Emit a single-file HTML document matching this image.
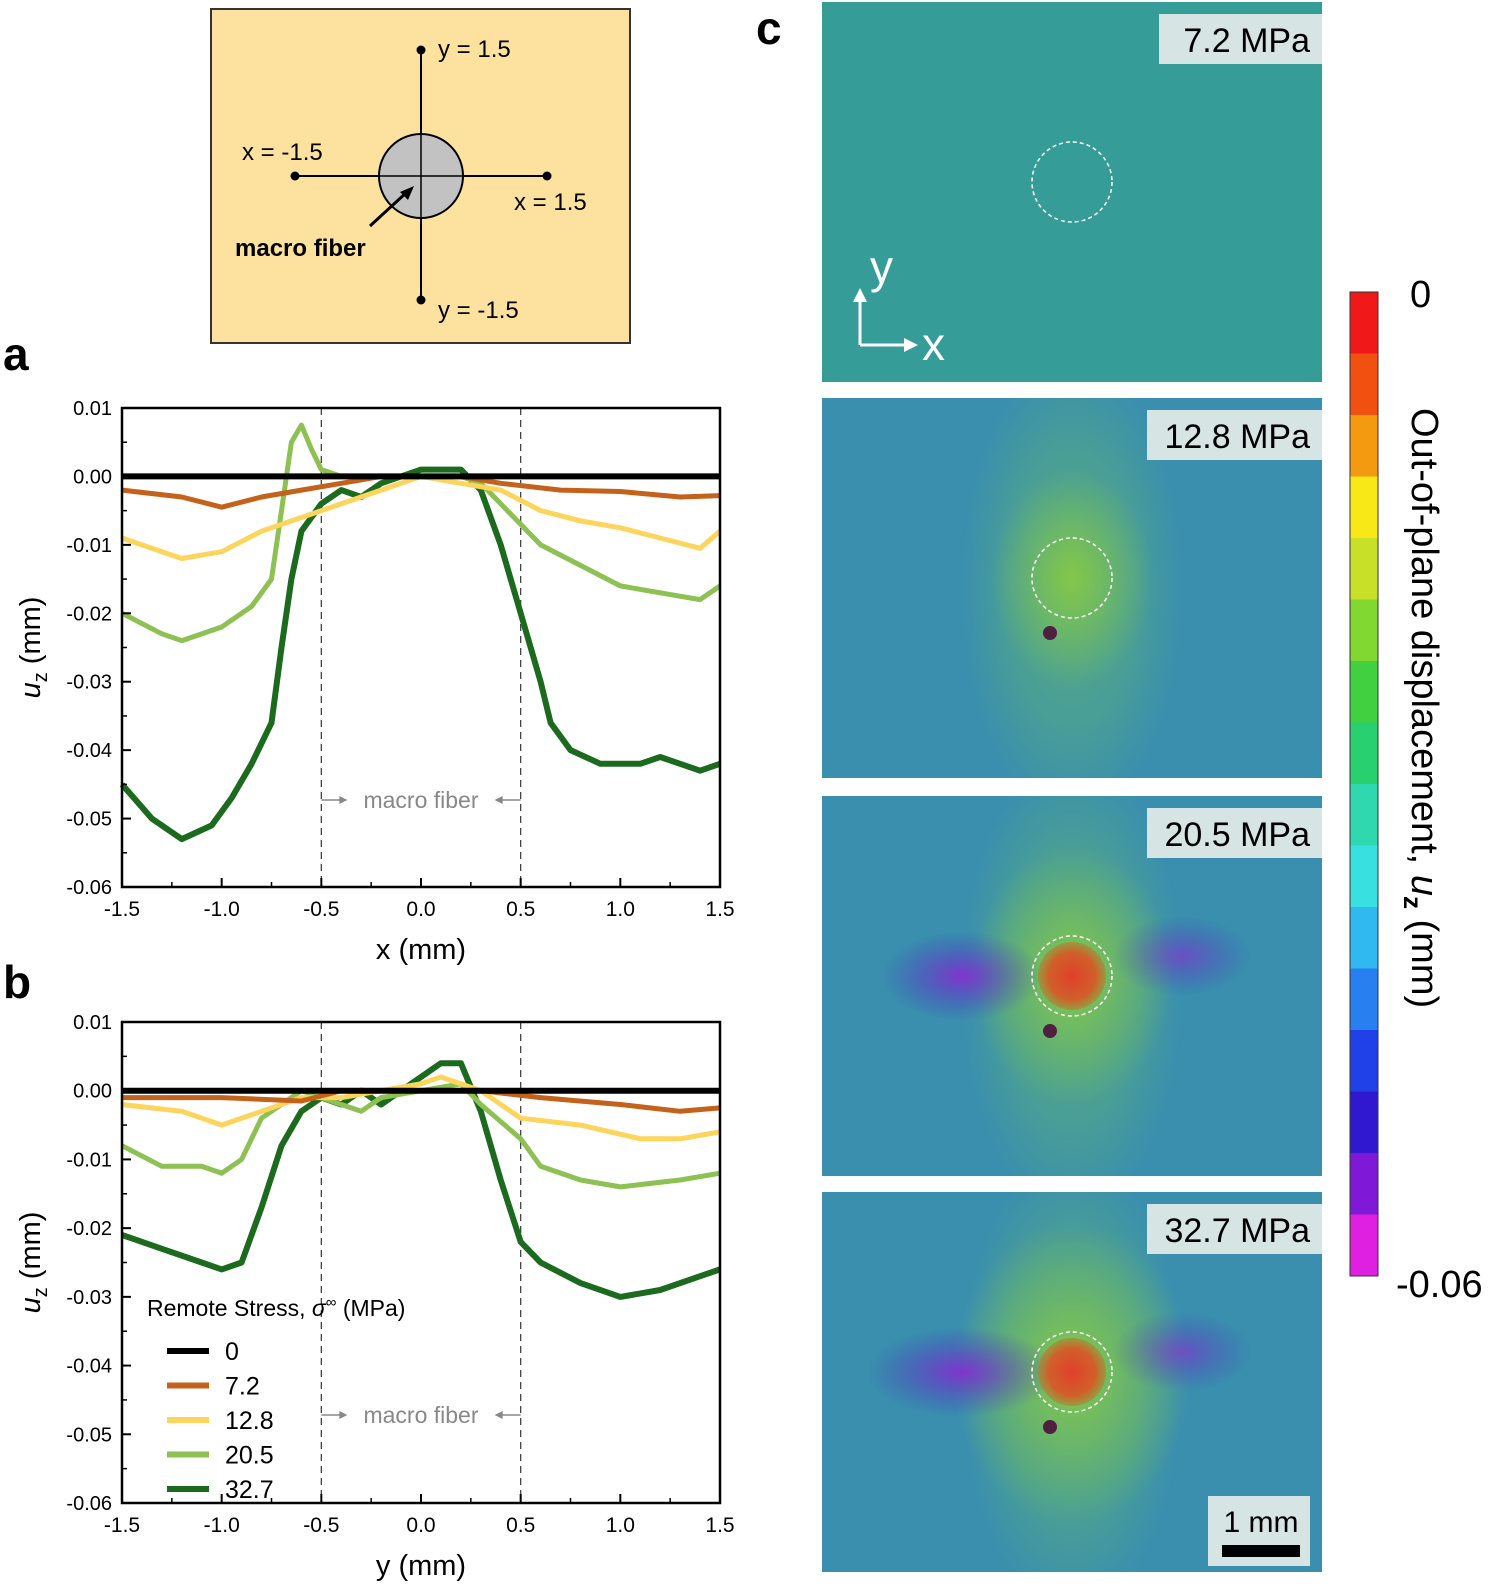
<!DOCTYPE html>
<html><head><meta charset="utf-8"><style>
body{margin:0;background:#fff;font-family:"Liberation Sans",Arial,sans-serif}
svg{display:block}
</style></head><body>
<svg id="fig" width="1502" height="1596" viewBox="0 0 1502 1596" xmlns="http://www.w3.org/2000/svg" font-family="Liberation Sans, Arial, sans-serif">
<defs>
<radialGradient id="gC" cx="0.5" cy="0.5" r="0.5"><stop offset="0" stop-color="#8fcf3a" stop-opacity="0.8"/><stop offset="1" stop-color="#8fcf3a" stop-opacity="0"/></radialGradient>
<radialGradient id="vC" cx="0.5" cy="0.5" r="0.5"><stop offset="0" stop-color="#6cc060" stop-opacity="0.55"/><stop offset="0.6" stop-color="#6cc060" stop-opacity="0.3"/><stop offset="1" stop-color="#6cc060" stop-opacity="0"/></radialGradient>
<radialGradient id="rC" cx="0.5" cy="0.5" r="0.5"><stop offset="0" stop-color="#e0402a"/><stop offset="0.7" stop-color="#d0602a"/><stop offset="1" stop-color="#b08030" stop-opacity="0.6"/></radialGradient>
<radialGradient id="pC" cx="0.5" cy="0.5" r="0.5"><stop offset="0" stop-color="#8a2ad0" stop-opacity="0.9"/><stop offset="1" stop-color="#3a3ac0" stop-opacity="0"/></radialGradient>
</defs>

<!-- schematic -->
<g>
<rect x="211" y="9" width="419" height="334" fill="#fde29f" stroke="#333" stroke-width="2"/>
<line x1="421" y1="50" x2="421" y2="300" stroke="#000" stroke-width="2"/>
<line x1="295" y1="176" x2="547" y2="176" stroke="#000" stroke-width="2"/>
<circle cx="421" cy="176" r="42" fill="#c2c2c2" stroke="#000" stroke-width="2"/>
<line x1="421" y1="134" x2="421" y2="218" stroke="#000" stroke-width="1.5"/>
<line x1="379" y1="176" x2="463" y2="176" stroke="#000" stroke-width="1.5"/>
<circle cx="421" cy="50" r="4.5"/><circle cx="421" cy="300" r="4.5"/><circle cx="295" cy="176" r="4.5"/><circle cx="547" cy="176" r="4.5"/>
<line x1="370" y1="226" x2="407" y2="192" stroke="#000" stroke-width="3"/>
<polygon points="414,186 400,192 408,200"/>
<text x="438" y="57" font-size="24">y = 1.5</text>
<text x="438" y="318" font-size="24">y = -1.5</text>
<text x="242" y="160" font-size="24">x = -1.5</text>
<text x="514" y="210" font-size="24">x = 1.5</text>
<text x="235" y="256" font-size="24" font-weight="bold">macro fiber</text>
</g>

<text x="3" y="370" font-size="46" font-weight="bold">a</text>
<text x="3" y="998" font-size="46" font-weight="bold">b</text>
<text x="756" y="44" font-size="46" font-weight="bold">c</text>

<g id="chartA"></g>
<g id="chartB"></g>
<g id="maps"></g>

<g id="cbar"></g>
<text x="1410" y="307" font-size="38">0</text>
<text x="1396" y="1297" font-size="38">-0.06</text>
<text transform="translate(1412,408) rotate(90)" font-size="38">Out-of-plane displacement, <tspan font-style="italic">u</tspan><tspan font-size="26" dy="8" font-weight="bold">z</tspan><tspan dy="-8"> (mm)</tspan></text>
</svg>
<script>
const NS="http://www.w3.org/2000/svg";
function mk(p,t,a){const e=document.createElementNS(NS,t);for(const k in a)e.setAttribute(k,a[k]);p.appendChild(e);return e;}

const seriesNames=["0","7.2","12.8","20.5","32.7"];
const seriesColors=["#000000","#c4621c","#fdd45c","#8ec153","#1b6a1e"];
const xTicks=[-1.5,-1.0,-0.5,0.0,0.5,1.0,1.5];
const xTickLabels=["-1.5","-1.0","-0.5","0.0","0.5","1.0","1.5"];
const yTicks=[0.01,0,-0.01,-0.02,-0.03,-0.04,-0.05,-0.06];
const yTickLabels=["0.01","0.00","-0.01","-0.02","-0.03","-0.04","-0.05","-0.06"];

const aX0=[-1.5,1.5]; const aY0=[0,0];
const aX72=[-1.5,-1.2,-1.0,-0.8,-0.6,-0.4,-0.2,0,0.2,0.4,0.7,1.0,1.3,1.5];
const aY72=[-0.002,-0.003,-0.0045,-0.003,-0.002,-0.001,0,0,0,-0.001,-0.002,-0.0022,-0.003,-0.0028];
const aX128=[-1.5,-1.3,-1.2,-1.0,-0.8,-0.6,-0.4,-0.2,0,0.2,0.4,0.6,0.8,1.0,1.2,1.4,1.5];
const aY128=[-0.009,-0.011,-0.012,-0.011,-0.008,-0.006,-0.004,-0.002,0,-0.001,-0.002,-0.005,-0.0065,-0.0075,-0.009,-0.0105,-0.008];
const aX205=[-1.5,-1.3,-1.2,-1.0,-0.85,-0.75,-0.7,-0.65,-0.6,-0.55,-0.5,-0.4,-0.2,0,0.2,0.3,0.4,0.5,0.6,0.8,1.0,1.2,1.4,1.5];
const aY205=[-0.020,-0.023,-0.024,-0.022,-0.019,-0.015,-0.005,0.005,0.0075,0.004,0.001,0,0,0,0,-0.001,-0.004,-0.007,-0.010,-0.013,-0.016,-0.017,-0.018,-0.016];
const aX327=[-1.5,-1.35,-1.2,-1.05,-0.95,-0.85,-0.75,-0.7,-0.65,-0.6,-0.5,-0.4,-0.3,-0.2,-0.1,0,0.1,0.2,0.3,0.4,0.5,0.6,0.65,0.75,0.9,1.1,1.2,1.3,1.4,1.5];
const aY327=[-0.045,-0.050,-0.053,-0.051,-0.047,-0.042,-0.036,-0.025,-0.015,-0.008,-0.004,-0.002,-0.003,-0.001,0,0.001,0.001,0.001,-0.002,-0.010,-0.020,-0.030,-0.036,-0.040,-0.042,-0.042,-0.041,-0.042,-0.043,-0.042];

const bX0=[-1.5,1.5]; const bY0=[0,0];
const bX72=[-1.5,-1.0,-0.6,-0.4,0,0.3,0.6,1.0,1.3,1.5];
const bY72=[-0.001,-0.001,-0.0015,0,0,0,-0.001,-0.002,-0.003,-0.0025];
const bX128=[-1.5,-1.2,-1.0,-0.8,-0.6,-0.4,-0.2,0,0.1,0.3,0.5,0.8,1.1,1.3,1.5];
const bY128=[-0.002,-0.003,-0.005,-0.003,-0.001,-0.001,0,0.001,0.002,0,-0.004,-0.005,-0.007,-0.007,-0.006];
const bX205=[-1.5,-1.3,-1.1,-1.0,-0.9,-0.8,-0.6,-0.5,-0.4,-0.3,-0.2,0,0.2,0.3,0.5,0.6,0.8,1.0,1.3,1.5];
const bY205=[-0.008,-0.011,-0.011,-0.012,-0.010,-0.004,0,-0.001,-0.002,-0.003,-0.001,0,0.001,-0.002,-0.007,-0.011,-0.013,-0.014,-0.013,-0.012];
const bX327=[-1.5,-1.3,-1.1,-1.0,-0.9,-0.8,-0.7,-0.6,-0.5,-0.4,-0.3,-0.2,-0.1,0,0.1,0.2,0.3,0.4,0.5,0.6,0.8,1.0,1.2,1.4,1.5];
const bY327=[-0.021,-0.023,-0.025,-0.026,-0.025,-0.017,-0.008,-0.003,-0.001,-0.002,0,-0.002,0,0.002,0.004,0.004,-0.003,-0.013,-0.022,-0.025,-0.028,-0.030,-0.029,-0.027,-0.026];

function drawChart(g,top,bottom,xs,ys,xTitle,legend){
  const L=122,R=720;
  const sx=v=>L+(v+1.5)/3*(R-L);
  const sy=v=>top+(0.01-v)/0.07*(bottom-top);
  [-0.5,0.5].forEach(v=>{const l=mk(g,'line',{x1:sx(v),x2:sx(v),y1:top,y2:bottom,stroke:'#444','stroke-width':1.3,'stroke-dasharray':'7,5'});
    
    });
  const ay=legend?1415:800;
  const ann=mk(g,'text',{x:sx(0),y:ay+8,'font-size':23,'text-anchor':'middle',fill:'#888'});ann.textContent='macro fiber';
  
  
  mk(g,'line',{x1:sx(-0.5),x2:sx(-0.5)+22,y1:ay,y2:ay,stroke:'#888','stroke-width':1.5});
  mk(g,'polygon',{points:`${sx(-0.5)+26},${ay} ${sx(-0.5)+18},${ay-4} ${sx(-0.5)+18},${ay+4}`,fill:'#888'});
  mk(g,'line',{x1:sx(0.5),x2:sx(0.5)-22,y1:ay,y2:ay,stroke:'#888','stroke-width':1.5});
  mk(g,'polygon',{points:`${sx(0.5)-26},${ay} ${sx(0.5)-18},${ay-4} ${sx(0.5)-18},${ay+4}`,fill:'#888'});
  for(let i=xs.length-1;i>=0;i--){
    const d=xs[i].map((v,j)=>(j?'L':'M')+sx(v).toFixed(1)+','+sy(ys[i][j]).toFixed(1)).join('');
    const p=mk(g,'path',{d,fill:'none',stroke:seriesColors[i],'stroke-width':i==0?6:(i==4?6:5),'stroke-linejoin':'round'});
    
    
  }
  const fr=mk(g,'rect',{x:L,y:top,width:R-L,height:bottom-top,fill:'none',stroke:'#000','stroke-width':2.5});
  
  
  yTicks.forEach((v,i)=>{
    mk(g,'line',{x1:L,x2:L+9,y1:sy(v),y2:sy(v),stroke:'#000','stroke-width':2});
    if(i<yTicks.length-1)mk(g,'line',{x1:L,x2:L+5,y1:(sy(v)+sy(yTicks[i+1]))/2,y2:(sy(v)+sy(yTicks[i+1]))/2,stroke:'#000','stroke-width':1.5});
    const t=mk(g,'text',{x:L-10,y:sy(v)+7,'font-size':20,'text-anchor':'end'});t.textContent=yTickLabels[i];
    
    
  });
  xTicks.forEach((v,i)=>{
    mk(g,'line',{x1:sx(v),x2:sx(v),y1:bottom,y2:bottom-9,stroke:'#000','stroke-width':2});
    if(i<xTicks.length-1)mk(g,'line',{x1:(sx(v)+sx(xTicks[i+1]))/2,x2:(sx(v)+sx(xTicks[i+1]))/2,y1:bottom,y2:bottom-5,stroke:'#000','stroke-width':1.5});
    const t=mk(g,'text',{x:sx(v),y:bottom+29,'font-size':21,'text-anchor':'middle'});t.textContent=xTickLabels[i];
    
    
  });
  const xt=mk(g,'text',{x:sx(0),y:bottom+72,'font-size':29,'text-anchor':'middle'});xt.textContent=xTitle;
  
  
  const yt=mk(g,'text',{transform:`translate(40,${(top+bottom)/2}) rotate(-90)`,'font-size':29,'text-anchor':'middle'});
  yt.innerHTML='<tspan font-style="italic">u</tspan><tspan font-size="20" dy="7">z</tspan><tspan dy="-7"> (mm)</tspan>';
  
  
  if(legend){
    const lt=mk(g,'text',{x:147,y:1316,'font-size':23});
    lt.innerHTML='Remote Stress, <tspan font-style="italic">σ</tspan><tspan font-size="15" dy="-9">∞</tspan><tspan dy="9"> (MPa)</tspan>';
    
    
    seriesNames.forEach((n,i)=>{
      const y=1351+i*34.5;
      const l=mk(g,'line',{x1:167,x2:209,y1:y,y2:y,stroke:seriesColors[i],'stroke-width':6});
      
      
      const t=mk(g,'text',{x:225,y:y+9,'font-size':25});t.textContent=n;
      
      
    });
  }
}
drawChart(document.getElementById('chartA'),408,887,[aX0,aX72,aX128,aX205,aX327],[aY0,aY72,aY128,aY205,aY327],'x (mm)',false);
drawChart(document.getElementById('chartB'),1022,1503,[bX0,bX72,bX128,bX205,bX327],[bY0,bY72,bY128,bY205,bY327],'y (mm)',true);

const mapTops=[2,398,796,1192];
const mapLabels=["7.2 MPa","12.8 MPa","20.5 MPa","32.7 MPa"];
const mg=document.getElementById('maps');
mapTops.forEach((t,i)=>{
  const g=mk(mg,'g',{});
  
  
  const W=500,H=380,X=822,cx=X+250,cy=t+180;
  mk(g,'svg',{x:X,y:t,width:W,height:H});
  const inner=g.lastChild;
  mk(inner,'rect',{x:0,y:0,width:W,height:H,fill:i==0?'#359c98':'#3a8fae'});
  if(i>0){
    mk(inner,'ellipse',{cx:250,cy:190,rx:110,ry:230,fill:'url(#vC)'});
    mk(inner,'ellipse',{cx:250,cy:180,rx:60+20*i,ry:90+20*i,fill:'url(#gC)'});
    if(i>=2){
      mk(inner,'ellipse',{cx:140,cy:180,rx:80+15*(i-2),ry:45,fill:'url(#pC)'});
      mk(inner,'ellipse',{cx:360,cy:160,rx:70,ry:40,fill:'url(#pC)','opacity':0.7});
      mk(inner,'circle',{cx:250,cy:180,r:34,fill:'url(#rC)'});
    }
    mk(inner,'circle',{cx:228,cy:235,r:7,fill:'#502040'});
  }
  mk(g,'circle',{cx,cy,r:40,fill:'none',stroke:'#fff','stroke-width':1.5,'stroke-dasharray':'4,3'});
  mk(g,'rect',{x:X+W-175-(i==0?-12:0),y:t+12,width:i==0?163:175,height:50,fill:'#d7e4e4'});
  const lt=mk(g,'text',{x:X+W-12,y:t+50,'font-size':34,'text-anchor':'end'});lt.textContent=mapLabels[i];
  
  
});
(function(){
  const g=mk(mg,'g',{});
  
  
  mk(g,'line',{x1:860,y1:345,x2:860,y2:296,stroke:'#fff','stroke-width':3});
  mk(g,'polygon',{points:'860,288 853,302 867,302',fill:'#fff'});
  mk(g,'line',{x1:860,y1:345,x2:910,y2:345,stroke:'#fff','stroke-width':3});
  mk(g,'polygon',{points:'918,345 904,338 904,352',fill:'#fff'});
  const ty=mk(g,'text',{x:870,y:283,'font-size':46,fill:'#fff'});ty.textContent='y';
  const tx=mk(g,'text',{x:922,y:360,'font-size':46,fill:'#fff'});tx.textContent='x';
  const sb=mk(mg,'g',{});
  
  
  mk(sb,'rect',{x:1208,y:1496,width:102,height:70,fill:'#d7e4e4'});
  mk(sb,'rect',{x:1222,y:1545,width:78,height:12,fill:'#000'});
  const st=mk(sb,'text',{x:1261,y:1532,'font-size':30,'text-anchor':'middle'});st.textContent='1 mm';
})();

const cbColors=["#f01818","#f05010","#f49a10","#f8e818","#c8e028","#80d830","#40d040","#28d070","#30d8b0","#38e0e0","#30b8f0","#2880f0","#2040e8","#3018d0","#8018d8","#e020e0"];
const cb=document.getElementById('cbar');
cbColors.forEach((c,i)=>{
  const h=(1276-292)/cbColors.length;
  const r=mk(cb,'rect',{x:1350,y:292+i*h,width:28,height:h+0.5,fill:c});
  
  
});
mk(cb,'rect',{x:1350,y:292,width:28,height:984,fill:'none',stroke:'#333','stroke-width':1});
</script>
</body></html>
